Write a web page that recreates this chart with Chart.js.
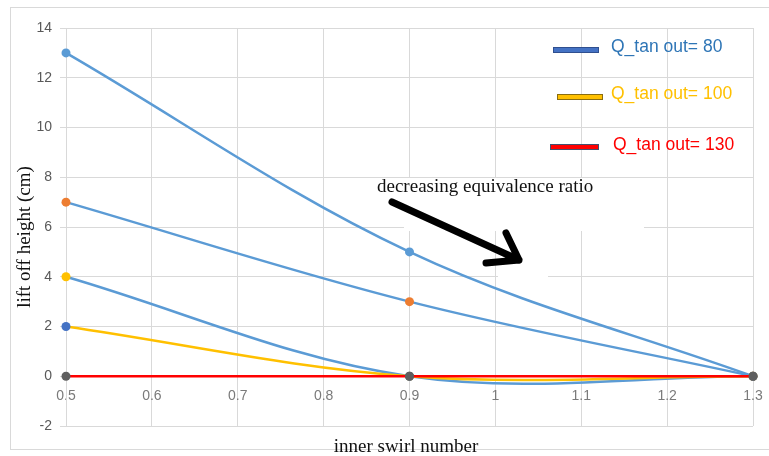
<!DOCTYPE html>
<html>
<head>
<meta charset="utf-8">
<script src="https://cdn.jsdelivr.net/npm/chart.js@4"></script>
<style>
  body { margin: 0; background: #fff; }
  canvas { display: block; }
</style>
</head>
<body>
<canvas id="grafico" width="769" height="456"></canvas>
<script>
// swirl number values (x) and lift off heights (cm)
const swirl = [0.5, 0.9, 1.3];
const liftA = [13, 5, 0];
const liftB = [7, 3, 0];
const liftC = [4, 0, 0];
const liftYellow = [2, 0, 0];
const liftRed = [0, 0, 0];

const yMin = -2, yMax = 14, yStep = 2;
const xMin = 0.5, xMax = 1.3, xStep = 0.1;

const legendLabels = ['Q_tan out= 80', 'Q_tan out= 100', 'Q_tan out= 130'];
const xTitle = 'inner swirl number';
const yTitle = 'lift off height (cm)';
const noteText = 'decreasing equivalence ratio';

function pontos(ys) {
    return swirl.map((x, i) => ({ x: x, y: ys[i] }));
}

function serie(ys, lineColor, markerColor, ordem) {
    return {
        data: pontos(ys),
        borderColor: lineColor,
        borderWidth: 2.5,
        pointBackgroundColor: markerColor,
        pointBorderColor: markerColor,
        pointRadius: 4.5,
        pointBorderWidth: 0,
        tension: 0.35,
        fill: false,
        clip: false,
        order: ordem
    };
}

const gridCor = '#d9d9d9';

// extra drawing: frame, white patches, legend, titles, arrow
const extras = {
    id: 'extras',
    beforeDraw(chart) {
        const ctx = chart.ctx;
        ctx.save();
        ctx.strokeStyle = gridCor;
        ctx.lineWidth = 1;
        ctx.strokeRect(10.5, 7.5, 770, 442);
        ctx.restore();
    },
    beforeDatasetsDraw(chart) {
        const ctx = chart.ctx;
        ctx.save();
        ctx.fillStyle = '#fff';
        ctx.fillRect(404, 178, 240, 53);
        ctx.fillRect(498, 231, 50, 58);
        ctx.restore();
    },
    afterDraw(chart) {
        const ctx = chart.ctx;
        ctx.save();

        // legend
        const itens = [
            { fill: '#4472C4', stroke: '#2F4F8F', text: '#2E75B6', bx: 553, by: 47, bw: 46, bh: 6, tx: 611, ty: 47 },
            { fill: '#FFC000', stroke: '#8A6D10', text: '#FFC000', bx: 557, by: 94, bw: 46, bh: 6, tx: 611, ty: 94 },
            { fill: '#FF0000', stroke: '#44506E', text: '#FF0000', bx: 550, by: 144, bw: 49, bh: 6, tx: 613, ty: 145 }
        ];
        ctx.font = '17.5px "Liberation Sans", Arial, sans-serif';
        ctx.textBaseline = 'middle';
        ctx.textAlign = 'left';
        itens.forEach((it, i) => {
            ctx.fillStyle = it.fill;
            ctx.fillRect(it.bx, it.by, it.bw, it.bh);
            ctx.strokeStyle = it.stroke;
            ctx.lineWidth = 1;
            ctx.strokeRect(it.bx + 0.5, it.by + 0.5, it.bw - 1, it.bh - 1);
            ctx.fillStyle = it.text;
            ctx.fillText(legendLabels[i], it.tx, it.ty);
        });

        // axis titles
        ctx.fillStyle = '#111';
        ctx.font = '19px "Liberation Serif", "Times New Roman", serif';
        ctx.textAlign = 'center';
        ctx.textBaseline = 'alphabetic';
        ctx.fillText(xTitle, 406, 452);

        ctx.save();
        ctx.translate(30, 237);
        ctx.rotate(-Math.PI / 2);
        ctx.fillText(yTitle, 0, 0);
        ctx.restore();

        // annotation
        ctx.textAlign = 'left';
        ctx.fillText(noteText, 377, 192);

        ctx.strokeStyle = '#000';
        ctx.lineWidth = 7;
        ctx.lineCap = 'round';
        ctx.lineJoin = 'round';
        ctx.beginPath();
        ctx.moveTo(392, 202);
        ctx.lineTo(519, 260);
        ctx.moveTo(486, 263);
        ctx.lineTo(519, 260);
        ctx.lineTo(506, 233);
        ctx.stroke();

        ctx.restore();
    }
};

const config = {
    type: 'line',
    data: {
        datasets: [
            serie(liftA, '#5B9BD5', '#5B9BD5', 5),
            serie(liftB, '#5B9BD5', '#ED7D31', 4),
            serie(liftC, '#5B9BD5', '#FFC000', 3),
            serie(liftYellow, '#FFC000', '#4472C4', 2),
            serie(liftRed, '#FF0000', '#5F5F5F', 1)
        ]
    },
    options: {
        responsive: false,
        animation: false,
        layout: {
            padding: { left: 0, top: 28, right: 16, bottom: 30 }
        },
        plugins: {
            legend: { display: false },
            tooltip: { enabled: false }
        },
        scales: {
            x: {
                type: 'linear',
                position: { y: 0 },
                min: xMin,
                max: xMax,
                afterFit(scale) { scale.paddingLeft = 0; scale.paddingRight = 0; },
                ticks: {
                    stepSize: xStep,
                    color: '#7a7a7a',
                    padding: 11,
                    font: { family: '"Liberation Sans", Arial, sans-serif', size: 14 },
                    callback: v => String(Math.round(v * 10) / 10)
                },
                grid: { color: gridCor, drawTicks: false },
                border: { display: false }
            },
            y: {
                min: yMin,
                max: yMax,
                afterFit(scale) { scale.width = 66; },
                ticks: {
                    stepSize: yStep,
                    color: '#595959',
                    padding: 8,
                    font: { family: '"Liberation Sans", Arial, sans-serif', size: 14 }
                },
                grid: { color: gridCor, tickLength: 6 },
                border: { color: gridCor }
            }
        }
    },
    plugins: [extras]
};

new Chart(document.getElementById('grafico'), config);
</script>
</body>
</html>
